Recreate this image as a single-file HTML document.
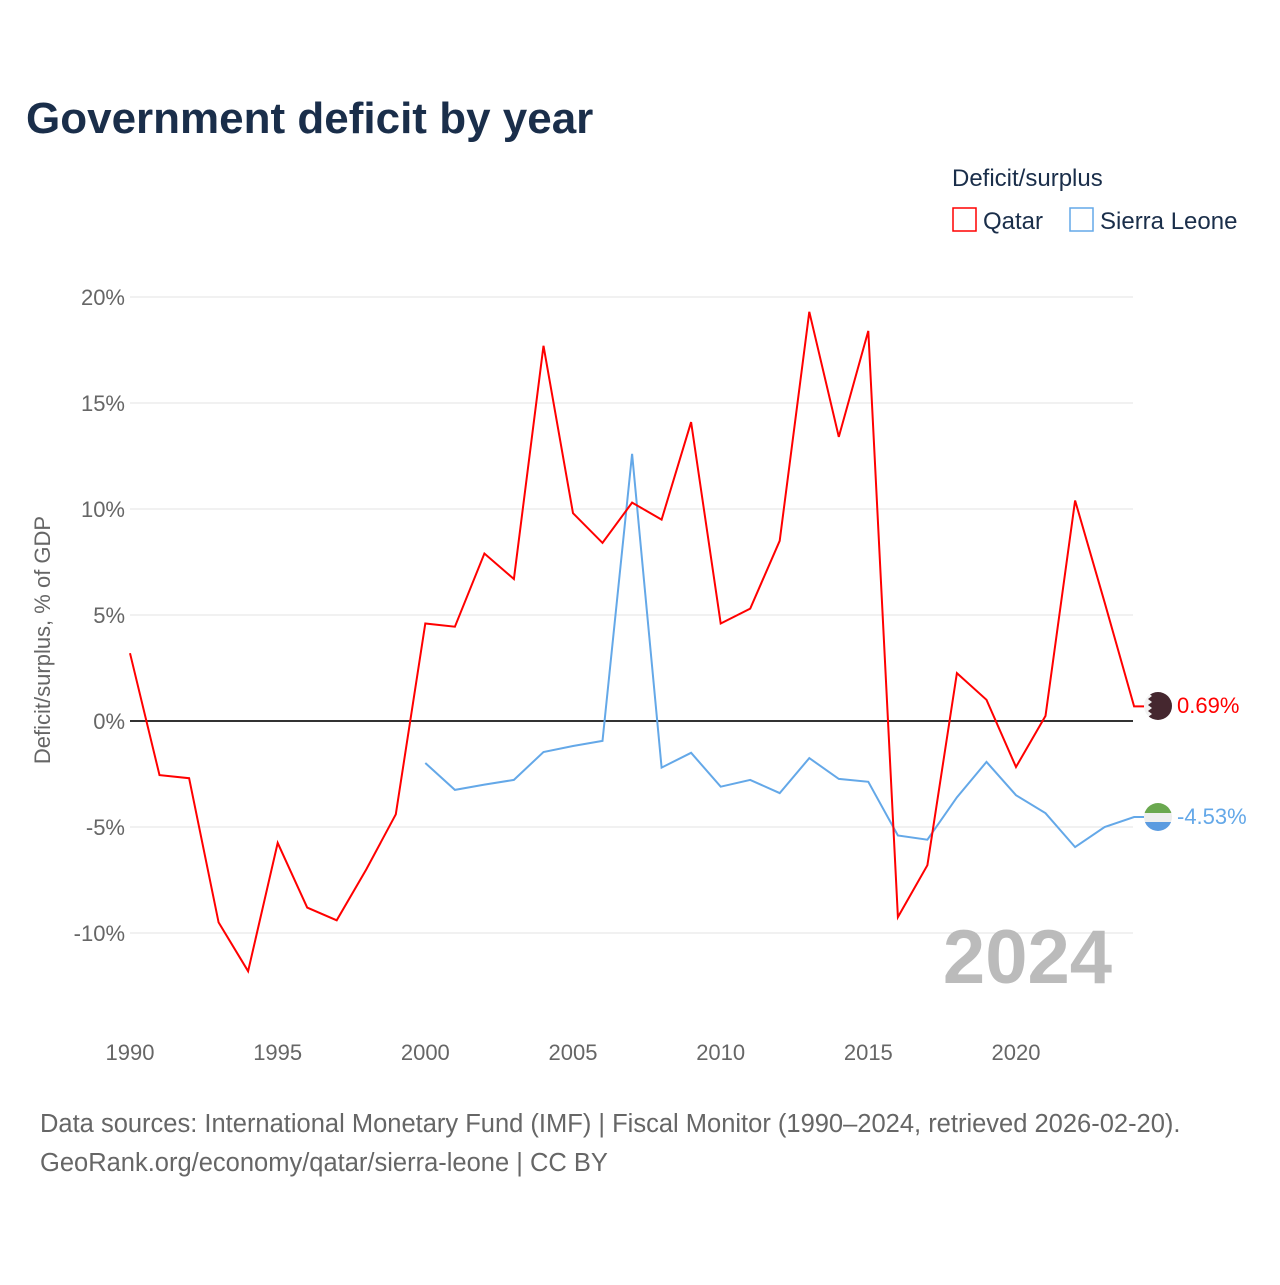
<!DOCTYPE html>
<html><head><meta charset="utf-8"><style>
body{margin:0;background:#fff;font-family:"Liberation Sans",sans-serif;}
#wrap{position:relative;width:1280px;height:1280px;}
</style></head><body>
<div id="wrap">
<svg id="chart" width="1280" height="1280" font-family="Liberation Sans, sans-serif">
<text x="26" y="133" font-size="44" font-weight="bold" fill="#1a2e4a">Government deficit by year</text>
<text x="952" y="186" font-size="24" fill="#1a2e4a">Deficit/surplus</text>
<g><rect x="953" y="208" width="23" height="23" fill="none" stroke="#ff0000" stroke-width="1.5"/><text x="983" y="229" font-size="24" fill="#1a2e4a">Qatar</text></g>
<g><rect x="1070" y="208" width="23" height="23" fill="none" stroke="#64a8e8" stroke-width="1.5"/><text x="1100" y="229" font-size="24" fill="#1a2e4a">Sierra Leone</text></g>
<text transform="translate(50,640) rotate(-90)" text-anchor="middle" font-size="22" fill="#666">Deficit/surplus, % of GDP</text>
<g id="grid"></g><g id="yt"></g><g id="xt"></g>
<text x="1112" y="983" text-anchor="end" font-size="76" font-weight="bold" fill="#bbb">2024</text>
<line x1="130" x2="1133" y1="721" y2="721" stroke="#333" stroke-width="2"/>
<g id="series"></g>
<g>
<clipPath id="cq"><circle cx="1158" cy="706" r="14"/></clipPath>
<g clip-path="url(#cq)"><rect x="1144" y="692" width="28" height="28" fill="#f2f2f2"/>
<polygon points="1152,692 1172,692 1172,720 1152,720 1148,717 1152,714 1148,711 1152,708 1148,705 1152,702 1148,699 1152,696 1148,693" fill="#45272f"/></g></g>
<g>
<clipPath id="cs"><circle cx="1158" cy="817" r="14"/></clipPath>
<g clip-path="url(#cs)"><rect x="1144" y="803" width="28" height="10" fill="#6aa84f"/><rect x="1144" y="813" width="28" height="9" fill="#eee"/><rect x="1144" y="822" width="28" height="9" fill="#5b9be0"/></g></g>
<text x="1177" y="713" font-size="22" fill="#ff0000">0.69%</text>
<text x="1177" y="824" font-size="22" fill="#64a8e8">-4.53%</text>
<text x="40" y="1132" font-size="25.5" fill="#666">Data sources: International Monetary Fund (IMF) | Fiscal Monitor (1990–2024, retrieved 2026-02-20).</text>
<text x="40" y="1171" font-size="25.5" fill="#666">GeoRank.org/economy/qatar/sierra-leone | CC BY</text>
</svg></div>
<script>
const qatarYears=[1990,1991,1992,1993,1994,1995,1996,1997,1998,1999,2000,2001,2002,2003,2004,2005,2006,2007,2008,2009,2010,2011,2012,2013,2014,2015,2016,2017,2018,2019,2020,2021,2022,2023,2024];
const qatarValues=[3.2,-2.55,-2.7,-9.5,-11.8,-5.75,-8.8,-9.4,-7.0,-4.4,4.6,4.45,7.9,6.7,17.7,9.8,8.4,10.3,9.5,14.1,4.6,5.3,8.5,19.3,13.4,18.4,-9.25,-6.8,2.26,1.0,-2.17,0.24,10.4,5.6,0.69];
const sleYears=[2000,2001,2002,2003,2004,2005,2006,2007,2008,2009,2010,2011,2012,2013,2014,2015,2016,2017,2018,2019,2020,2021,2022,2023,2024];
const sleValues=[-1.98,-3.25,-3.0,-2.78,-1.46,-1.18,-0.94,12.6,-2.2,-1.5,-3.1,-2.78,-3.4,-1.75,-2.73,-2.87,-5.4,-5.6,-3.6,-1.93,-3.5,-4.35,-5.95,-5.0,-4.53];
const yTicks=[20,15,10,5,0,-5,-10];
const yTickLabels=["20%","15%","10%","5%","0%","-5%","-10%"];
const xTicks=[1990,1995,2000,2005,2010,2015,2020];
const NS="http://www.w3.org/2000/svg";
function xs(y){return 130+(y-1990)*(1016-130)/30;}
function ys(v){return 721-v*(721-297)/20;}
function mk(t,a,p){const e=document.createElementNS(NS,t);for(const k in a)e.setAttribute(k,a[k]);p.appendChild(e);return e;}
const grid=document.getElementById('grid'),yt=document.getElementById('yt'),xt=document.getElementById('xt'),ser=document.getElementById('series');
yTicks.forEach((v,i)=>{
 const l=mk('line',{x1:130,x2:1133,y1:ys(v),y2:ys(v),stroke:'#e3e3e3','stroke-width':1},grid);
 
 
 const t=mk('text',{x:125,y:ys(v)+8,'text-anchor':'end','font-size':22,fill:'#666'},yt);
 t.textContent=yTickLabels[i];
 
 
});
xTicks.forEach(y=>{
 const t=mk('text',{x:xs(y),y:1060,'text-anchor':'middle','font-size':22,fill:'#666'},xt);
 t.textContent=y;
 
 
});
function line(years,vals,color,name){
 const n=years.length-1;
 const d=years.map((y,i)=>(i?'L':'M')+xs(y).toFixed(1)+','+ys(vals[i]).toFixed(1)).join('')+'L1144,'+ys(vals[n]).toFixed(1);
 const p=mk('path',{d:d,fill:'none',stroke:color,'stroke-width':2,'stroke-linejoin':'miter'},ser);
 
 
}
line(sleYears,sleValues,'#64a8e8','sierra-leone-line');
line(qatarYears,qatarValues,'#ff0000','qatar-line');
</script>
</body></html>
